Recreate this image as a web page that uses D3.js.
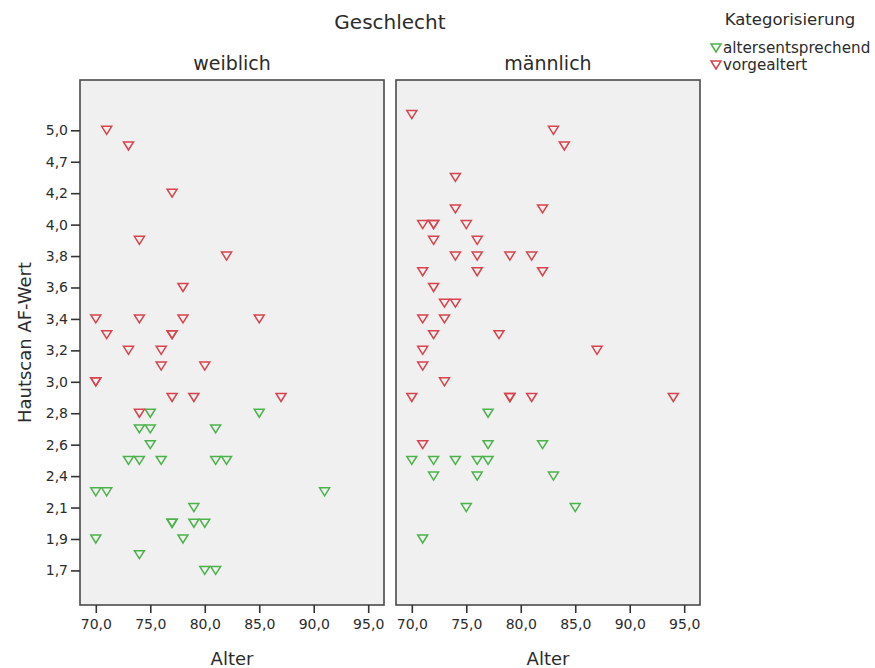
<!DOCTYPE html>
<html>
<head>
<meta charset="utf-8">
<script src="https://cdn.jsdelivr.net/npm/d3@7/dist/d3.min.js"></script>
<style>
  body { margin: 0; background: #fff; }
  svg text { font-family: "DejaVu Sans", "Liberation Sans", sans-serif; fill: #2b2b2b; }
</style>
</head>
<body>
<svg id="chart" width="875" height="668"></svg>
<script>
// Hautscan AF-Wert categories (ordinal axis, every other one labelled)
const scoreCategories = [1.7, 1.8, 1.9, 2.0, 2.1, 2.3, 2.4, 2.5, 2.6, 2.7, 2.8, 2.9, 3.0, 3.1, 3.2,
  3.3, 3.4, 3.5, 3.6, 3.7, 3.8, 3.9, 4.0, 4.1, 4.2, 4.5, 4.7, 4.8, 5.0, 5.1];
const scoreTickLabels = [1.7, 1.9, 2.1, 2.4, 2.6, 2.8, 3.0, 3.2, 3.4, 3.6, 3.8, 4.0, 4.2, 4.7, 5.0];
const ageTicks = [70, 75, 80, 85, 90, 95];

const genders = ["weiblich", "männlich"];
const groups = ["altersentsprechend", "vorgealtert"];
const groupColors = ["#4cb24c", "#d8434d"];

// weiblich – altersentsprechend
const femaleNormalAge   = [75, 85, 74, 75, 81, 75, 73, 74, 76, 81, 82, 70, 71, 91, 79, 77, 77, 79, 80, 70, 78, 74, 80, 81];
const femaleNormalScore = [2.8, 2.8, 2.7, 2.7, 2.7, 2.6, 2.5, 2.5, 2.5, 2.5, 2.5, 2.3, 2.3, 2.3, 2.1, 2.0, 2.0, 2.0, 2.0, 1.9, 1.9, 1.8, 1.7, 1.7];
// weiblich – vorgealtert
const femaleAgedAge   = [71, 73, 77, 74, 82, 78, 70, 74, 78, 85, 71, 77, 77, 73, 76, 76, 80, 70, 70, 77, 79, 87, 74];
const femaleAgedScore = [5.0, 4.8, 4.2, 3.9, 3.8, 3.6, 3.4, 3.4, 3.4, 3.4, 3.3, 3.3, 3.3, 3.2, 3.2, 3.1, 3.1, 3.0, 3.0, 2.9, 2.9, 2.9, 2.8];
// männlich – altersentsprechend
const maleNormalAge   = [77, 77, 82, 70, 72, 74, 76, 77, 72, 76, 83, 75, 85, 71];
const maleNormalScore = [2.8, 2.6, 2.6, 2.5, 2.5, 2.5, 2.5, 2.5, 2.4, 2.4, 2.4, 2.1, 2.1, 1.9];
// männlich – vorgealtert
const maleAgedAge   = [70, 83, 84, 74, 74, 82, 71, 72, 72, 75, 72, 76, 74, 76, 79, 81, 71, 76, 82, 72, 73, 74,
  71, 73, 72, 78, 71, 87, 71, 73, 70, 79, 79, 81, 94, 71];
const maleAgedScore = [5.1, 5.0, 4.8, 4.5, 4.1, 4.1, 4.0, 4.0, 4.0, 4.0, 3.9, 3.9, 3.8, 3.8, 3.8, 3.8, 3.7, 3.7, 3.7, 3.6, 3.5, 3.5,
  3.4, 3.4, 3.3, 3.3, 3.2, 3.2, 3.1, 3.0, 2.9, 2.9, 2.9, 2.9, 2.9, 2.6];

const panelData = [
  [[femaleNormalAge, femaleNormalScore], [femaleAgedAge, femaleAgedScore]],
  [[maleNormalAge, maleNormalScore], [maleAgedAge, maleAgedScore]]
];

const fmt = v => d3.format(".1f")(v).replace(".", ",");

const svg = d3.select("#chart");
const panelW = 304, panelH = 525, panelTop = 80;
const panelLeft = [80, 396];

const x = d3.scaleLinear().domain([68.55, 96.45]).range([0, panelW]);
const y = d3.scalePoint().domain(scoreCategories).range([panelH, 0]).padding(2.2);

// downward-pointing hollow triangle marker
const tri = "M-5,-4L5,-4L0,4Z";

genders.forEach((g, gi) => {
  const p = svg.append("g").attr("transform", `translate(${panelLeft[gi]},${panelTop})`);

  p.append("rect")
    .attr("width", panelW).attr("height", panelH)
    .attr("fill", "#f0f0f0").attr("stroke", "#4a4a4a").attr("stroke-width", 1.6);

  // x axis
  const xa = p.append("g").attr("transform", `translate(0,${panelH})`)
    .call(d3.axisBottom(x).tickValues(ageTicks).tickSize(8).tickPadding(6).tickFormat(fmt));
  xa.select(".domain").remove();
  xa.selectAll("line").attr("stroke", "#333").attr("stroke-width", 1.6);
  xa.selectAll("text").attr("font-size", 14).attr("fill", "#2b2b2b").attr("font-family", null);

  p.append("text")
    .attr("x", panelW / 2).attr("y", panelH + 60)
    .attr("text-anchor", "middle").attr("font-size", 18)
    .text("Alter");

  p.append("text")
    .attr("x", panelW / 2).attr("y", -10)
    .attr("text-anchor", "middle").attr("font-size", 19)
    .text(g);

  if (gi === 0) {
    const ya = p.append("g")
      .call(d3.axisLeft(y).tickValues(scoreTickLabels).tickSize(9).tickPadding(3).tickFormat(fmt));
    ya.select(".domain").remove();
    ya.selectAll("line").attr("stroke", "#333").attr("stroke-width", 1.6);
    ya.selectAll("text").attr("font-size", 14).attr("fill", "#2b2b2b").attr("font-family", null);
  }

  panelData[gi].forEach(([ages, scores], si) => {
    p.append("g").selectAll("path")
      .data(ages.map((a, i) => ({ age: a, score: scores[i] })))
      .join("path")
      .attr("d", tri)
      .attr("transform", d => `translate(${x(d.age)},${y(d.score)})`)
      .attr("fill", "none")
      .attr("stroke", groupColors[si])
      .attr("stroke-width", 1.5)
      .attr("stroke-linejoin", "miter");
  });
});

// titles
svg.append("text")
  .attr("x", 390).attr("y", 29)
  .attr("text-anchor", "middle").attr("font-size", 20)
  .text("Geschlecht");

svg.append("text")
  .attr("transform", `translate(31,${panelTop + panelH / 2}) rotate(-90)`)
  .attr("text-anchor", "middle").attr("font-size", 18)
  .text("Hautscan AF-Wert");

// legend
const lg = svg.append("g").attr("transform", "translate(711,0)");
lg.append("text").attr("x", 79).attr("y", 25)
  .attr("text-anchor", "middle").attr("font-size", 16.5)
  .text("Kategorisierung");
groups.forEach((name, i) => {
  const row = lg.append("g").attr("transform", `translate(0,${48 + i * 17})`);
  row.append("path").attr("d", tri)
    .attr("transform", "translate(5,0)")
    .attr("fill", "none").attr("stroke", groupColors[i]).attr("stroke-width", 1.5);
  row.append("text").attr("x", 12).attr("y", 5)
    .attr("font-size", 15.2)
    .text(name);
});
</script>
</body>
</html>
